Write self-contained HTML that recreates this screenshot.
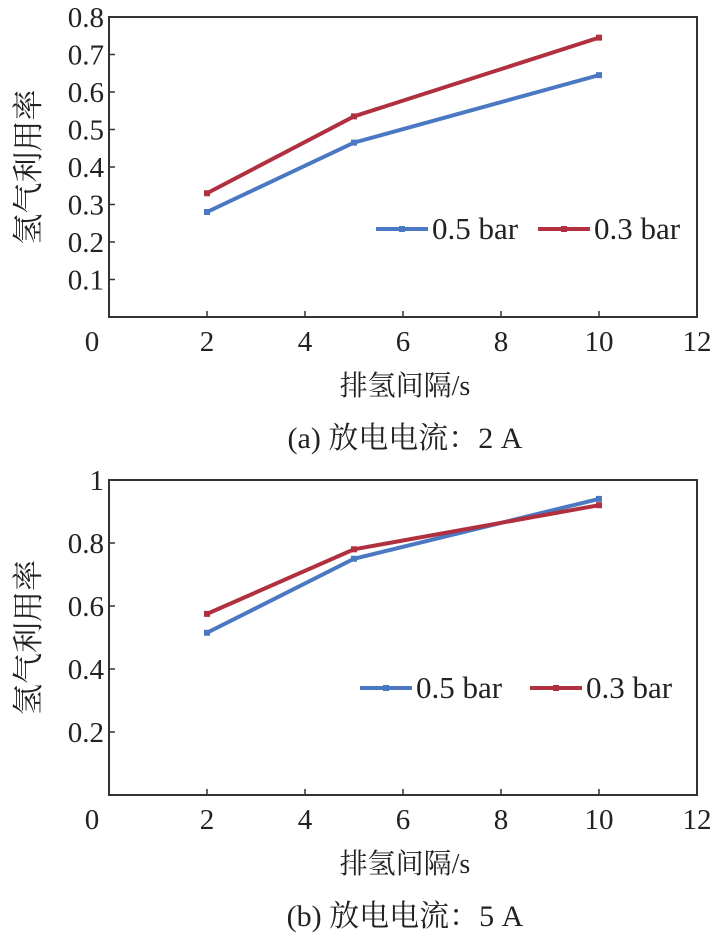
<!DOCTYPE html>
<html><head><meta charset="utf-8"><style>
body{margin:0;background:#fff;}
svg text{font-family:"Liberation Serif","Noto Serif CJK SC","Noto Sans CJK SC",serif;fill:#222;}
</style></head><body>
<svg id="s" width="722" height="940" xmlns="http://www.w3.org/2000/svg"></svg>
<script>
const categories=[2,5,10];
const xTicks=[0,2,4,6,8,10,12];
const aBlue=[0.28,0.465,0.645];
const aRed=[0.33,0.535,0.745];
const aYTicks=[0.1,0.2,0.3,0.4,0.5,0.6,0.7,0.8];
const bBlue=[0.515,0.75,0.94];
const bRed=[0.575,0.78,0.92];
const bYTicks=[0.2,0.4,0.6,0.8,1];
const seriesNames=['0.5 bar','0.3 bar'];
const svg=document.getElementById('s');
const NS='http://www.w3.org/2000/svg';
function mk(t,a,p){const e=document.createElementNS(NS,t);for(const k in a)e.setAttribute(k,a[k]);(p||svg).appendChild(e);return e;}
function chart(o){
  const g=mk('g',{});
  
  
  const L=109,R=697,T=o.top,B=o.bottom;
  const xs=v=>L+(v/12)*(R-L);
  const ys=v=>B-(v/o.ymax)*(B-T);
  const box=mk('rect',{x:L,y:T,width:R-L,height:B-T,fill:'none',stroke:'#333','stroke-width':2},g);
  
  xTicks.forEach(v=>{
    if(v>0&&v<12)mk('line',{x1:xs(v),x2:xs(v),y1:B,y2:B-6,stroke:'#333','stroke-width':1.5},g);
    const t=mk('text',{x:v===0?92:xs(v),y:B+34,'font-size':29,'text-anchor':'middle'},g);t.textContent=v;
    
  });
  o.yt.forEach(v=>{
    if(v<o.ymax)mk('line',{x1:L,x2:L+6,y1:ys(v),y2:ys(v),stroke:'#333','stroke-width':1.5},g);
    const t=mk('text',{x:L-5,y:ys(v)+10,'font-size':29,'text-anchor':'end'},g);t.textContent=v;
    
  });
  [[o.blue,'#4a78c2'],[o.red,'#b0303f']].forEach((s,i)=>{
    const pts=categories.map((c,j)=>xs(c)+','+ys(s[0][j])).join(' ');
    const pl=mk('polyline',{points:pts,fill:'none',stroke:s[1],'stroke-width':4},g);
    
    
    categories.forEach((c,j)=>{const m=mk('rect',{x:xs(c)-3,y:ys(s[0][j])-3,width:6,height:6,fill:s[1]},g);
      });
    const lx=o.leg[i],ly=o.legY;
    const le=mk('g',{},g);
    mk('line',{x1:lx,x2:lx+52,y1:ly,y2:ly,stroke:s[1],'stroke-width':4},le);
    mk('rect',{x:lx+23,y:ly-3,width:6,height:6,fill:s[1]},le);
    const t=mk('text',{x:lx+56,y:ly+10,'font-size':31},le);t.textContent=seriesNames[i];
  });
  const yl=mk('text',{x:0,y:0,'font-size':31,'text-anchor':'middle',transform:`translate(39,${(T+B)/2}) rotate(-90)`},g);
  yl.textContent='氢气利用率';
  const xl=mk('text',{x:405,y:B+78,'font-size':28,'text-anchor':'middle'},g);
  xl.textContent='排氢间隔/s';
  const cp=mk('text',{x:405,y:B+131,'font-size':30,'text-anchor':'middle'},g);
  cp.textContent=o.cap;
}
chart({name:'chart-a',top:17,bottom:317,ymax:0.8,yt:aYTicks,blue:aBlue,red:aRed,leg:[376,538],legY:229,cap:'(a) 放电电流：2 A'});
chart({name:'chart-b',top:480,bottom:795,ymax:1,yt:bYTicks,blue:bBlue,red:bRed,leg:[360,530],legY:688,cap:'(b) 放电电流：5 A'});
</script>
</body></html>
